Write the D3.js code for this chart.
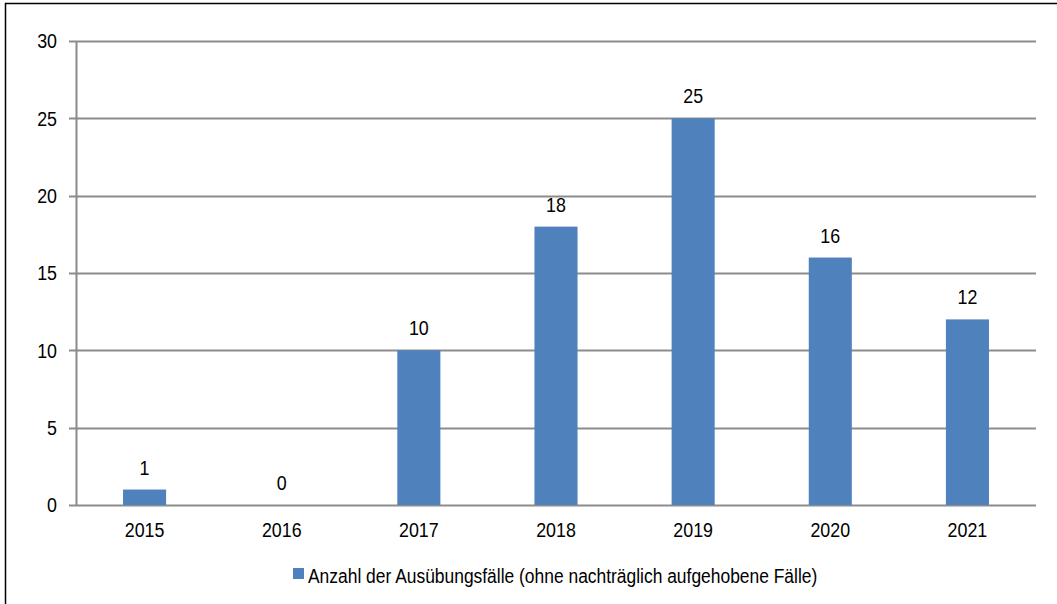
<!DOCTYPE html>
<html>
<head>
<meta charset="utf-8">
<script src="https://cdn.jsdelivr.net/npm/d3@7"></script>
<style>
  html, body { margin: 0; padding: 0; background: #fff; }
  svg { display: block; }
  svg text { font-family: "Liberation Sans", Arial, sans-serif; fill: #000; }
</style>
</head>
<body>
<svg id="chart" width="1057" height="604"></svg>
<script>
// Exercise cases per year
const years = ["2015", "2016", "2017", "2018", "2019", "2020", "2021"];
const cases = [1, 0, 10, 18, 25, 16, 12];
const yTicks = [0, 5, 10, 15, 20, 25, 30];
const seriesName = "Anzahl der Ausübungsfälle (ohne nachträglich aufgehobene Fälle)";

const svg = d3.select("#chart");
const W = 1057, H = 604;
const margin = { left: 76, right: 21, top: 41, bottom: 99 };
const barColor = "#4F81BD";
const gridColor = "#8C8C8C";
const fontSize = 21;
const narrow = 0.85;       // horizontal squeeze for a condensed look
const legendNarrow = 0.83;

// outer frame (left and top edges visible)
svg.append("rect")
  .attr("x", 5.5).attr("y", 3.5)
  .attr("width", W + 10).attr("height", H + 10)
  .attr("fill", "none").attr("stroke", "#000").attr("stroke-width", 1.5);

const x = d3.scaleBand().domain(years)
  .range([margin.left, W - margin.right])
  .paddingInner(0.686).paddingOuter(0.343);
const y = d3.scaleLinear().domain([0, 30])
  .range([H - margin.bottom, margin.top]);

// gridlines
svg.append("g").selectAll("line").data(yTicks).join("line")
  .attr("x1", margin.left - 7).attr("x2", W - margin.right)
  .attr("y1", d => Math.round(y(d)) + 0.5).attr("y2", d => Math.round(y(d)) + 0.5)
  .attr("stroke", gridColor).attr("stroke-width", 2);

// y axis labels
const yAxis = d3.axisLeft(y).tickValues(yTicks).tickSize(0).tickPadding(19);
const ya = svg.append("g").attr("transform", `translate(${margin.left},0)`).call(yAxis);
ya.attr("font-family", null).attr("font-size", fontSize);
ya.select(".domain").remove();
ya.selectAll("text").attr("fill", "#000")
  .attr("x", -19 / narrow).attr("transform", `scale(${narrow},1)`);

// vertical axis line
svg.append("line")
  .attr("x1", margin.left + 0.5).attr("x2", margin.left + 0.5)
  .attr("y1", y(30)).attr("y2", y(0))
  .attr("stroke", gridColor).attr("stroke-width", 2);

// bars
svg.append("g").selectAll("rect").data(years).join("rect")
  .attr("x", d => x(d))
  .attr("width", x.bandwidth())
  .attr("y", (d, i) => y(cases[i]))
  .attr("height", (d, i) => y(0) - y(cases[i]))
  .attr("fill", barColor);

// value labels
svg.append("g").selectAll("text").data(years).join("text")
  .attr("transform", (d, i) =>
    `translate(${x(d) + x.bandwidth() / 2},${y(cases[i]) - 15}) scale(${narrow},1)`)
  .attr("text-anchor", "middle")
  .attr("font-size", fontSize)
  .text((d, i) => cases[i]);

// x axis labels
const xAxis = d3.axisBottom(x).tickSize(0).tickPadding(17);
const xa = svg.append("g").attr("transform", `translate(0,${y(0)})`).call(xAxis);
xa.attr("font-family", null).attr("font-size", fontSize);
xa.select(".domain").remove();
xa.selectAll("text").attr("fill", "#000").attr("transform", `scale(${narrow},1)`);

// legend
const legend = svg.append("g").attr("transform", "translate(293,583)");
legend.append("rect").attr("x", 0).attr("y", -15).attr("width", 11).attr("height", 11)
  .attr("fill", barColor);
legend.append("text")
  .attr("transform", `translate(15,0) scale(${legendNarrow},1)`)
  .attr("font-size", fontSize)
  .text(seriesName);
</script>
</body>
</html>
